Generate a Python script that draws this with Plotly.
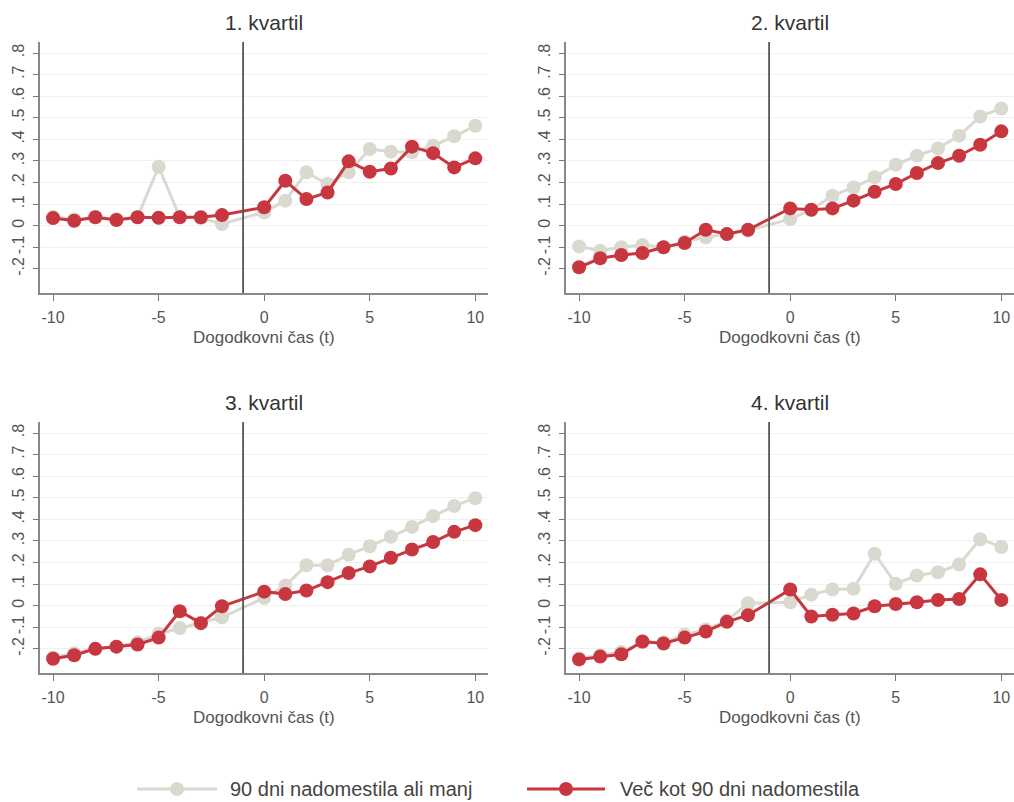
import plotly.graph_objects as go

t = [-10, -9, -8, -7, -6, -5, -4, -3, -2, 0, 1, 2, 3, 4, 5, 6, 7, 8, 9, 10]

titles = ["1. kvartil", "2. kvartil", "3. kvartil", "4. kvartil"]

q1_le90 = [0.04, 0.03, 0.04, 0.03, 0.04, 0.273, 0.04, 0.035, 0.008, 0.062, 0.116, 0.247, 0.193, 0.247, 0.355, 0.343, 0.34, 0.37, 0.414, 0.463]
q1_gt90 = [0.035, 0.023, 0.039, 0.026, 0.039, 0.037, 0.039, 0.039, 0.049, 0.085, 0.208, 0.123, 0.154, 0.298, 0.25, 0.265, 0.366, 0.336, 0.27, 0.312]

q2_le90 = [-0.096, -0.116, -0.1, -0.09, -0.1, -0.074, -0.054, -0.039, -0.023, 0.031, 0.074, 0.139, 0.177, 0.224, 0.282, 0.324, 0.358, 0.417, 0.506, 0.543]
q2_gt90 = [-0.193, -0.151, -0.136, -0.127, -0.1, -0.08, -0.019, -0.039, -0.019, 0.08, 0.074, 0.08, 0.116, 0.157, 0.193, 0.244, 0.29, 0.324, 0.375, 0.437]

q3_le90 = [-0.24, -0.22, -0.2, -0.19, -0.17, -0.13, -0.104, -0.08, -0.054, 0.036, 0.093, 0.187, 0.187, 0.236, 0.275, 0.319, 0.365, 0.415, 0.462, 0.498]
q3_gt90 = [-0.246, -0.23, -0.2, -0.19, -0.18, -0.148, -0.026, -0.081, -0.003, 0.065, 0.054, 0.07, 0.109, 0.151, 0.182, 0.222, 0.26, 0.295, 0.342, 0.373]

q4_le90 = [-0.245, -0.23, -0.215, -0.17, -0.17, -0.135, -0.11, -0.07, 0.011, 0.016, 0.051, 0.075, 0.078, 0.241, 0.101, 0.14, 0.155, 0.191, 0.308, 0.272]
q4_gt90 = [-0.249, -0.236, -0.225, -0.166, -0.175, -0.148, -0.12, -0.075, -0.044, 0.075, -0.05, -0.042, -0.036, -0.003, 0.008, 0.016, 0.026, 0.031, 0.145, 0.026]

series_le90 = [q1_le90, q2_le90, q3_le90, q4_le90]
series_gt90 = [q1_gt90, q2_gt90, q3_gt90, q4_gt90]

name_le90 = "90 dni nadomestila ali manj"
name_gt90 = "Več kot 90 dni nadomestila"

ytick_vals = [-0.2, -0.1, 0, 0.1, 0.2, 0.3, 0.4, 0.5, 0.6, 0.7, 0.8]
ytick_text = ["-.2", "-.1", "0", ".1", ".2", ".3", ".4", ".5", ".6", ".7", ".8"]
xtick_vals = [-10, -5, 0, 5, 10]
xtick_text = ["-10", "-5", "0", "5", "10"]
event_line = -1

GRAY = "#d9d9d0"
RED = "#c8363f"
W, H = 1014, 802

xdomains = [[40 / W, 488 / W], [566 / W, 1.0]]
ydomains = [[(H - 293) / H, (H - 42) / H], [(H - 673) / H, (H - 422) / H]]

fig = go.Figure()
layout = dict(
    width=W, height=H,
    margin=dict(l=0, r=0, t=0, b=0, autoexpand=False),
    paper_bgcolor="white", plot_bgcolor="white",
    font=dict(family="Liberation Sans, Arial, sans-serif", color="#555555"),
    showlegend=False,
)
annotations = []
shapes = []

for i in range(4):
    r, c = divmod(i, 2)
    ax = "" if i == 0 else str(i + 1)
    xa, ya = "x" + ax, "y" + ax
    fig.add_trace(go.Scatter(x=t, y=series_le90[i], mode="lines+markers", name=name_le90,
                             line=dict(color=GRAY, width=3), marker=dict(color=GRAY, size=14),
                             xaxis=xa, yaxis=ya, hoverinfo="skip"))
    fig.add_trace(go.Scatter(x=t, y=series_gt90[i], mode="lines+markers", name=name_gt90,
                             line=dict(color=RED, width=3), marker=dict(color=RED, size=14),
                             xaxis=xa, yaxis=ya, hoverinfo="skip"))
    layout["xaxis" + ax] = dict(
        domain=xdomains[c], anchor=ya, range=[-10.62, 10.6],
        tickvals=xtick_vals, ticktext=xtick_text, ticks="outside", ticklen=6, tickcolor="#777777",
        ticklabelstandoff=3,
        showline=True, linecolor="#888888", linewidth=1.5, showgrid=False, zeroline=False,
        tickfont=dict(size=16, color="#555555"),
    )
    layout["yaxis" + ax] = dict(
        domain=ydomains[r], anchor=xa, range=[-0.312, 0.851],
        tickvals=ytick_vals, ticktext=ytick_text, tickangle=-90,
        ticks="outside", ticklen=5, tickcolor="#777777", ticklabelstandoff=3,
        showline=True, linecolor="#888888", linewidth=1.5,
        showgrid=True, gridcolor="#f0f0f0", gridwidth=1, zeroline=False,
        tickfont=dict(size=16, color="#5a4f4f"),
    )
    shapes.append(dict(type="line", xref=xa, yref=ya + " domain", x0=event_line, x1=event_line,
                       y0=0, y1=1, line=dict(color="#555555", width=1.8), layer="above"))
    xc = (xdomains[c][0] + 488 / W - 40 / W + xdomains[c][0]) / 2
    top_px = 42 if r == 0 else 422
    bot_px = 293 if r == 0 else 673
    annotations.append(dict(text=titles[i], x=xc, xref="paper", y=(H - top_px + 6) / H,
                            yref="paper", xanchor="center", yanchor="bottom", showarrow=False,
                            font=dict(size=21, color="#333333")))
    annotations.append(dict(text="Dogodkovni čas (t)", x=xc, xref="paper", y=(H - bot_px - 44) / H,
                            yref="paper", xanchor="center", yanchor="middle", showarrow=False,
                            font=dict(size=17, color="#555555")))

# custom legend (paper pixel positions)
leg_y = (H - 789) / H
legend_items = [(name_le90, GRAY, 137, 217, 228), (name_gt90, RED, 527, 605, 618)]
for name, col, x0, x1, xt in legend_items:
    shapes.append(dict(type="line", xref="paper", yref="paper", x0=x0 / W, x1=x1 / W,
                       y0=leg_y, y1=leg_y, line=dict(color=col, width=3)))
    xm = (x0 + x1) / 2
    shapes.append(dict(type="circle", xref="paper", yref="paper",
                       x0=(xm - 7) / W, x1=(xm + 7) / W, y0=leg_y - 7 / H, y1=leg_y + 7 / H,
                       fillcolor=col, line=dict(color=col, width=0)))
    annotations.append(dict(text=name, x=xt / W, xref="paper", y=leg_y, yref="paper",
                            xanchor="left", yanchor="middle", showarrow=False,
                            font=dict(size=20, color="#444444")))

layout["annotations"] = annotations
layout["shapes"] = shapes
fig.update_layout(**layout)
fig.write_html("out.html", config={"displayModeBar": False},
               post_script="document.body.style.margin='0';document.body.style.overflow='hidden';")
